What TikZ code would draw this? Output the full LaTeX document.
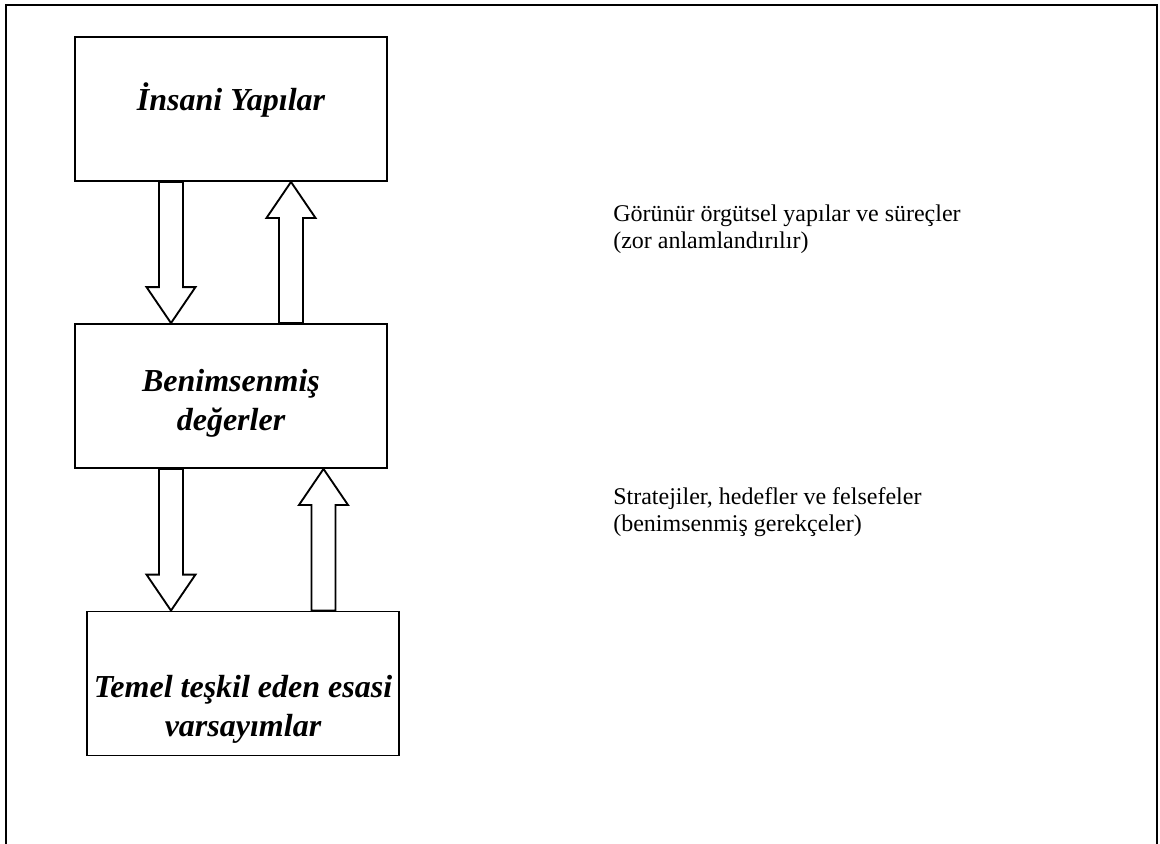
\documentclass[tikz,border=0pt]{standalone}
\usepackage{fontspec}
\setmainfont{Liberation Serif}
\usetikzlibrary{calc}

\tikzset{
  boxnode/.style={draw, line width=1.4pt, minimum width=234pt, minimum height=108pt, inner sep=0pt},
  boxtext/.style={align=center, inner sep=0pt, font=\fontsize{24}{29}\selectfont\bfseries\itshape},
  sidetext/.style={anchor=west, align=left, inner sep=0pt, font=\fontsize{18}{20}\selectfont},
  blockarrow/.style={draw, line width=1.4pt, fill=white, line join=miter}
}

\begin{document}
\begin{tikzpicture}[x=0.75pt,y=-0.75pt]
\useasboundingbox (0,0) rectangle (1160,843);
% outer frame, its bottom edge runs off the page
\draw[line width=1.5pt] (6,860) -- (6,5) -- (1157,5) -- (1157,860);

% the three levels
\node[boxnode] (insani) at (231,109) {};
\node[boxnode] (benim) at (231,396) {};
\node[boxnode] (temel) at (243,683.5) {};

\node[boxtext] (insanitxt) at ($(insani)+(0,-9)$) {İnsani Yapılar};
\node[boxtext] (benimtxt) at ($(benim)+(0,7)$) {Benimsenmiş\\değerler};
\node[boxtext] (temeltxt) at ($(temel)+(0,26)$) {Temel teşkil eden esasi\\varsayımlar};

% downward block arrows
\foreach \s/\t/\x in {insani/benim/171, benim/temel/171}
{
\coordinate (ax) at (\x,0);
\coordinate (a) at (ax |- \s.south);
\coordinate (b) at (ax |- \t.north);
\draw[blockarrow] ($(a)+(-12,0)$) -- ($(b)+(-12,-36)$) -- ($(b)+(-24.5,-36)$) -- (b)
  -- ($(b)+(24.5,-36)$) -- ($(b)+(12,-36)$) -- ($(a)+(12,0)$) -- cycle;
}

% upward block arrows
\foreach \s/\t/\x in {insani/benim/291, benim/temel/323.5}
{
\coordinate (ax) at (\x,0);
\coordinate (a) at (ax |- \s.south);
\coordinate (b) at (ax |- \t.north);
\draw[blockarrow] ($(b)+(-12,0)$) -- ($(a)+(-12,36)$) -- ($(a)+(-24.5,36)$) -- (a)
  -- ($(a)+(24.5,36)$) -- ($(a)+(12,36)$) -- ($(b)+(12,0)$) -- cycle;
}

% descriptions on the right
\node[sidetext] (gorunur) at (613,229) {Görünür örgütsel yapılar ve süreçler\\(zor anlamlandırılır)};
\node[sidetext] (strateji) at (613,512) {Stratejiler, hedefler ve felsefeler\\(benimsenmiş gerekçeler)};
\end{tikzpicture}
\end{document}
